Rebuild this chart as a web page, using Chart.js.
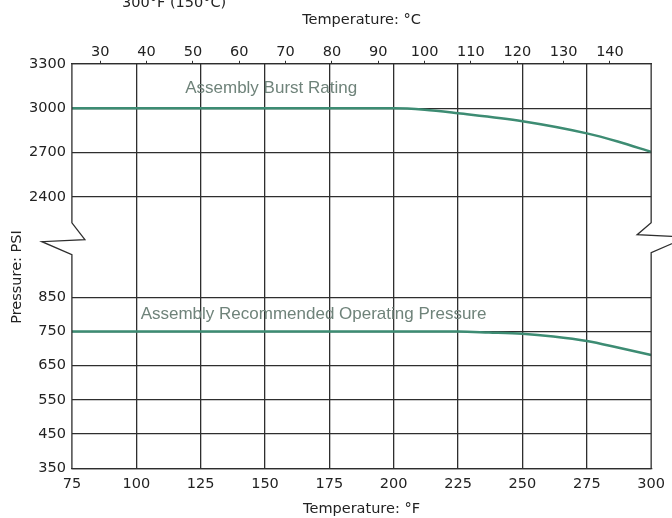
<!DOCTYPE html>
<html lang="en">
<head>
<meta charset="UTF-8">
<title>Pressure vs Temperature</title>
<script src="https://cdn.jsdelivr.net/npm/chart.js@4.4.0/dist/chart.umd.min.js"></script>
<style>
  body { margin: 0; background: #fff; }
  #wrap { width: 672px; height: 518px; }
</style>
</head>
<body>
<div id="wrap"><canvas id="chart"></canvas></div>
<script>
// temperatures in °F, pressures in PSI
const burstTemp = [75, 200, 212, 225, 250, 275, 287, 300];
const burstPsi = [3000, 3000, 2990, 2966, 2912, 2830, 2775, 2705];
const operTemp = [75, 225, 237, 250, 262, 275, 287, 300];
const operPsi = [750, 750, 747, 743, 735, 722, 703, 681];

const fTicks = [75, 100, 125, 150, 175, 200, 225, 250, 275, 300];
const cTicks = [30, 40, 50, 60, 70, 80, 90, 100, 110, 120, 130, 140];
const psiLowTicks = [350, 450, 550, 650, 750, 850];
const psiHighTicks = [2400, 2700, 3000, 3300];

const gridColour = '#2e2e2e';
const lineColour = '#3d8c73';
const textColour = '#222';
const tickFont = { family: 'DejaVu Sans', size: 14.5 };

const toC = f => (f - 32) / 1.8;
const toPoints = (xs, ys) => xs.map((x, i) => ({ x: x, y: ys[i] }));
const setTicks = list => scale => { scale.ticks = list.map(v => ({ value: v })); };
const plain = v => String(v);

// axis edges with the break zigzag, plus the free-standing texts
const extras = {
    id: 'extras',
    beforeDatasetsDraw(chart, args, opts) {
        const ctx = chart.ctx;
        ctx.save();
        ctx.font = '17px "Liberation Sans"';
        ctx.fillStyle = '#6f837a';
        ctx.textBaseline = 'middle';
        ctx.textAlign = 'left';
        opts.labels.forEach(l => {
            const x = chart.scales.x.getPixelForValue(l.x);
            const y = chart.scales[l.axis].getPixelForValue(l.y);
            ctx.fillText(l.text, x, y);
        });
        ctx.restore();
    },
    afterDraw(chart) {
        const ctx = chart.ctx;
        const a = chart.chartArea;
        const yTop = chart.scales.yHigh.getPixelForValue(psiHighTicks[0]);
        const yBot = chart.scales.yLow.getPixelForValue(psiLowTicks[psiLowTicks.length - 1]);
        const g = (yBot - yTop) / 101;
        ctx.save();
        ctx.strokeStyle = gridColour;
        ctx.lineWidth = 1.3;
        ctx.beginPath();
        ctx.moveTo(a.left, a.top);
        ctx.lineTo(a.left, yTop + 26 * g);
        ctx.lineTo(a.left + 13, yTop + 43 * g);
        ctx.lineTo(a.left - 30, yTop + 45 * g);
        ctx.lineTo(a.left, yTop + 58 * g);
        ctx.lineTo(a.left, a.bottom);
        ctx.moveTo(a.right, a.top);
        ctx.lineTo(a.right, yTop + 26 * g);
        ctx.lineTo(a.right - 14, yTop + 38 * g);
        ctx.lineTo(a.right + 30, yTop + 40 * g);
        ctx.moveTo(a.right + 30, yTop + 43 * g);
        ctx.lineTo(a.right, yTop + 56 * g);
        ctx.lineTo(a.right, a.bottom);
        ctx.stroke();

        ctx.fillStyle = textColour;
        ctx.font = '14.5px "DejaVu Sans"';
        ctx.textAlign = 'left';
        ctx.textBaseline = 'alphabetic';
        ctx.fillText('300°F (150°C)', 122, 7);

        ctx.translate(17, 277);
        ctx.rotate(-Math.PI / 2);
        ctx.textAlign = 'center';
        ctx.textBaseline = 'middle';
        ctx.fillText('Pressure: PSI', 0, 0);
        ctx.restore();
    }
};

new Chart(document.getElementById('chart'), {
    type: 'line',
    data: {
        datasets: [{
            label: 'Assembly Burst Rating',
            data: toPoints(burstTemp, burstPsi),
            xAxisID: 'x',
            yAxisID: 'yHigh',
            borderColor: lineColour,
            borderWidth: 2.5,
            pointRadius: 0,
            cubicInterpolationMode: 'monotone'
        }, {
            label: 'Assembly Recommended Operating Pressure',
            data: toPoints(operTemp, operPsi),
            xAxisID: 'x',
            yAxisID: 'yLow',
            borderColor: lineColour,
            borderWidth: 2.5,
            pointRadius: 0,
            cubicInterpolationMode: 'monotone'
        }]
    },
    options: {
        responsive: true,
        maintainAspectRatio: false,
        animation: false,
        layout: { padding: { left: 23, right: 18, top: 12, bottom: 0 } },
        plugins: {
            legend: { display: false },
            tooltip: { enabled: false },
            extras: {
                labels: [
                    { text: 'Assembly Burst Rating', x: 119, y: 3132, axis: 'yHigh' },
                    { text: 'Assembly Recommended Operating Pressure', x: 101.7, y: 801, axis: 'yLow' }
                ]
            }
        },
        scales: {
            x: {
                type: 'linear',
                position: 'bottom',
                min: 75,
                max: 300,
                afterBuildTicks: setTicks(fTicks),
                grid: {
                    color: c => (c.tick && (c.tick.value === 75 || c.tick.value === 300)) ? 'rgba(0,0,0,0)' : gridColour,
                    lineWidth: 1.3,
                    drawTicks: false
                },
                border: { display: true, color: gridColour, width: 1.3 },
                ticks: { padding: 7, font: tickFont, color: textColour, callback: plain },
                title: { display: true, text: 'Temperature: °F', font: tickFont, color: textColour, padding: { top: 1, bottom: 0 } }
            },
            xC: {
                type: 'linear',
                position: 'top',
                min: toC(75),
                max: toC(300),
                afterBuildTicks: setTicks(cTicks),
                grid: { drawOnChartArea: false, drawTicks: true, tickLength: 3, color: gridColour },
                border: { display: true, color: gridColour, width: 1.3 },
                ticks: { padding: 0, font: tickFont, color: textColour, callback: plain },
                title: { display: true, text: 'Temperature: °C', font: tickFont, color: textColour, padding: { top: 0, bottom: 14 } }
            },
            yLow: {
                type: 'linear',
                position: 'left',
                stack: 'psi',
                stackWeight: 172,
                min: 350,
                max: 850,
                afterBuildTicks: setTicks(psiLowTicks),
                grid: { color: gridColour, lineWidth: 1.3, drawTicks: false },
                border: { display: false },
                ticks: { padding: 6, font: tickFont, color: textColour, callback: plain }
            },
            yHigh: {
                type: 'linear',
                position: 'left',
                stack: 'psi',
                stackWeight: 235,
                min: 1722,
                max: 3300,
                afterBuildTicks: setTicks(psiHighTicks),
                grid: { color: gridColour, lineWidth: 1.3, drawTicks: false },
                border: { display: false },
                ticks: { padding: 6, font: tickFont, color: textColour, callback: plain }
            }
        }
    },
    plugins: [extras]
});
</script>
</body>
</html>
